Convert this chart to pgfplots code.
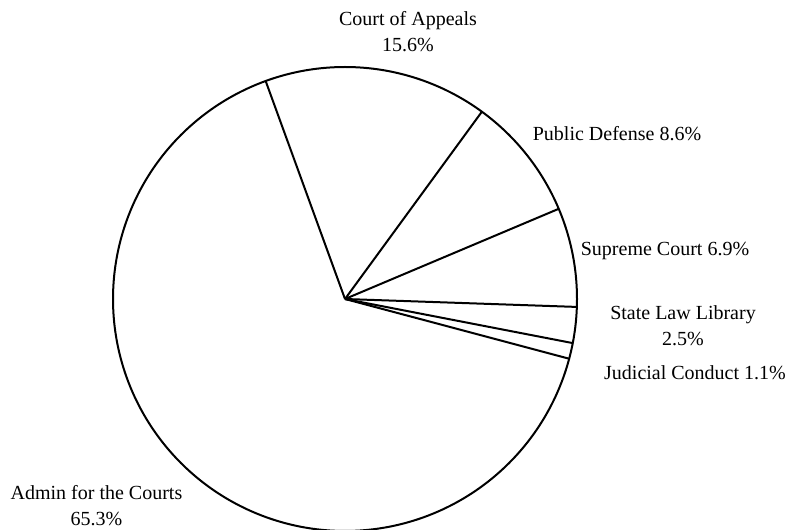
\documentclass[border=0pt]{standalone}
\usepackage{fontspec}
\setmainfont{Liberation Serif}
\usepackage{pgfplots}
\pgfplotsset{compat=1.18}
% shares (%): Court of Appeals 15.6, Public Defense 8.6, Supreme Court 6.9,
% State Law Library 2.5, Judicial Conduct 1.1, Admin for the Courts 65.3
% slices run clockwise from 110 degrees; 1% = 3.6 degrees
\begin{document}
\begin{tikzpicture}
\begin{axis}[
  scale only axis, width=600pt, height=396.75pt,
  xmin=-345, xmax=455, ymin=-230, ymax=299,
  hide axis, clip=true,
  every axis plot/.append style={black, line width=1.5pt, mark=none},
]
\addplot[data cs=polar, domain=0:360, samples=361, fill=white] (x, 232);
\addplot[data cs=polar] coordinates {(110,0) (110,232)};
\addplot[data cs=polar] coordinates {(53.84,0) (53.84,232)};
\addplot[data cs=polar] coordinates {(22.88,0) (22.88,232)};
\addplot[data cs=polar] coordinates {(-1.96,0) (-1.96,232)};
\addplot[data cs=polar] coordinates {(-10.96,0) (-10.96,232)};
\addplot[data cs=polar] coordinates {(-14.92,0) (-14.92,232)};
\begin{scope}[every node/.style={align=center, font=\fontsize{15}{19.5}\selectfont}]
\node at (axis cs:63,267) {Court of Appeals\\15.6\%};
\node at (axis cs:272,165) {Public Defense 8.6\%};
\node at (axis cs:320,48) {Supreme Court 6.9\%};
\node at (axis cs:338,-27) {State Law Library\\2.5\%};
\node at (axis cs:350,-74) {Judicial Conduct 1.1\%};
\node at (axis cs:-248.5,-206.5) {Admin for the Courts\\65.3\%};
\end{scope}
\end{axis}
\pgfresetboundingbox
\useasboundingbox (current axis.south west) rectangle (current axis.north east);
\end{tikzpicture}
\end{document}
